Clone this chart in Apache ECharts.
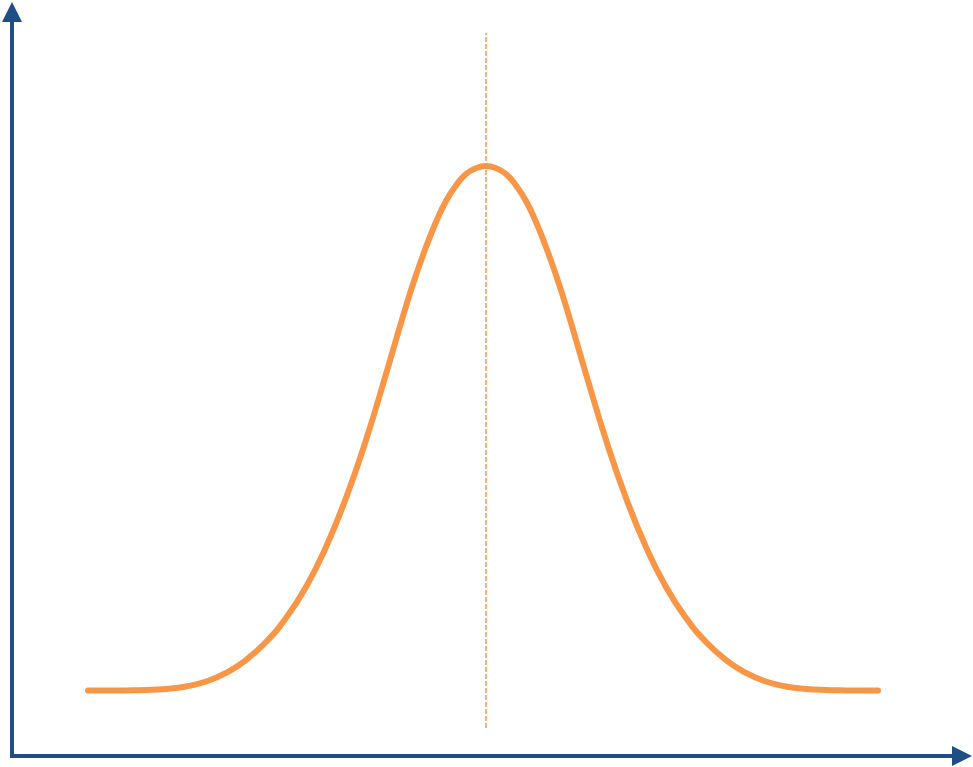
<!DOCTYPE html>
<html>
<head>
<meta charset="utf-8">
<script src="https://cdn.jsdelivr.net/npm/echarts@6/dist/echarts.min.js"></script>
<style>
html,body{margin:0;padding:0;background:#fff;}
#chart{width:973px;height:767px;}
</style>
</head>
<body>
<div id="chart"></div>
<script>
// Curve points (x in arbitrary units, y in % of axis height)
const curveX = [-3.98, -3.8, -3.6, -3.4, -3.2, -3.0, -2.8, -2.6, -2.4, -2.2, -2.0, -1.8, -1.6, -1.4, -1.2, -1.0,
  -0.8, -0.7, -0.6, -0.5, -0.4, -0.3, -0.2, -0.1, 0, 0.1, 0.2, 0.3, 0.4, 0.5, 0.6, 0.7, 0.8,
  1.0, 1.2, 1.4, 1.6, 1.8, 2.0, 2.2, 2.4, 2.6, 2.8, 3.0, 3.2, 3.4, 3.6, 3.8, 3.92];
const curveY = [8.80, 8.80, 8.82, 8.87, 9.01, 9.34, 10.01, 11.16, 12.90, 15.32, 18.55, 22.72, 28.09, 34.68, 42.47, 51.34,
  60.48, 64.65, 68.41, 71.77, 74.60, 76.68, 78.23, 79.01, 79.30, 79.01, 78.23, 76.68, 74.60, 71.77, 68.41, 64.65, 60.48,
  51.34, 42.47, 34.68, 28.09, 22.72, 18.55, 15.32, 12.90, 11.16, 10.01, 9.34, 9.01, 8.87, 8.82, 8.80, 8.80];
// Dashed mean line
const meanX = [0, 0];
const meanY = [3.76, 97.2];

const axisColor = '#1F4E84';
const curveColor = '#F79646';

const chart = echarts.init(document.getElementById('chart'));
const axisCommon = {
  type: 'value',
  axisLine: {
    show: true,
    onZero: false,
    symbol: ['none', 'triangle'],
    symbolSize: [20, 20],
    lineStyle: { color: axisColor, width: 4, cap: 'square' }
  },
  axisTick: { show: false },
  axisLabel: { show: false },
  splitLine: { show: false }
};
chart.setOption({
  backgroundColor: '#ffffff',
  animation: false,
  grid: { left: 12, right: 11, top: 12, bottom: 11, containLabel: false },
  xAxis: Object.assign({}, axisCommon, { min: -4.74, max: 4.76 }),
  yAxis: Object.assign({}, axisCommon, { min: 0, max: 100 }),
  series: [
    {
      type: 'line',
      data: meanX.map((x, i) => [x, meanY[i]]),
      symbol: 'none',
      lineStyle: { color: curveColor, width: 1.5, type: [5, 2] },
      z: 1
    },
    {
      type: 'line',
      data: curveX.map((x, i) => [x, curveY[i]]),
      smooth: true,
      symbol: 'none',
      lineStyle: { color: curveColor, width: 6, cap: 'round', join: 'round' },
      z: 2
    }
  ]
});
</script>
</body>
</html>
